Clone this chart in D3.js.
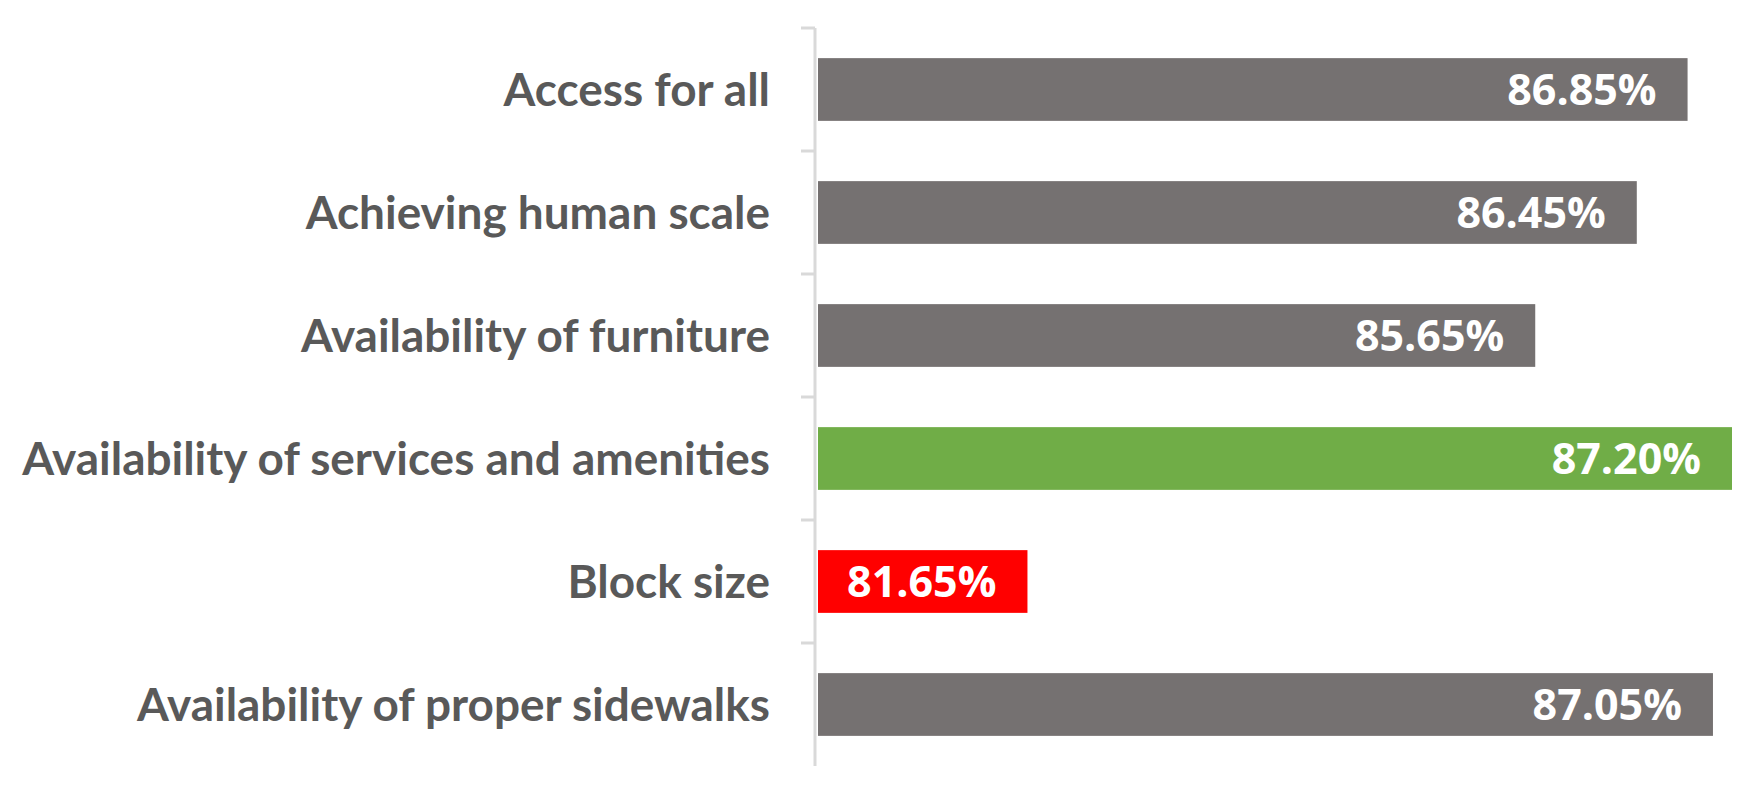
<!DOCTYPE html>
<html lang="en">
<head>
<meta charset="utf-8">
<title>Walkability criteria</title>
<style>
body {
  margin: 0;
  background: #ffffff;
}
#chart text.cat {
  fill: #595959;
  font-family: Lato, "Open Sans", sans-serif;
  font-weight: 700;
  text-anchor: end;
}
#chart text.val {
  fill: #ffffff;
  font-family: "Open Sans", sans-serif;
  font-weight: 700;
  font-size: 43px;
  text-anchor: end;
}
.axis path, .axis line {
  fill: none;
  stroke: #d9d9d9;
  stroke-width: 3;
}
</style>
</head>
<body>
<div id="chart"></div>
<script src="https://d3js.org/d3.v7.min.js"></script>
<script>

var categories = [
  "Access for all",
  "Achieving human scale",
  "Availability of furniture",
  "Availability of services and amenities",
  "Block size",
  "Availability of proper sidewalks"
];
var values = [86.85, 86.45, 85.65, 87.20, 81.65, 87.05];
var barColors = ["#757171", "#757171", "#757171", "#70ad47", "#ff0000", "#757171"];

var W = 1755, H = 787;
var axisX = 815;

var svg = d3.select('#chart')
  .append('svg')
  .attr('width', W)
  .attr('height', H);

var yS = d3.scaleBand()
  .domain(categories)
  .range([28, 766])
  .paddingInner(0.49)
  .paddingOuter(0.245);

var xS = d3.scaleLinear()
  .domain([80, 87.2])
  .range([axisX + 3, 1732]);

// bars
svg.selectAll('rect.bar')
  .data(values)
  .enter()
  .append('rect')
  .attr('class', 'bar')
  .attr('x', xS(80))
  .attr('y', function(d, i) { return yS(categories[i]); })
  .attr('width', function(d) { return xS(d) - xS(80); })
  .attr('height', yS.bandwidth())
  .style('fill', function(d, i) { return barColors[i]; });

// axis with ticks between categories
var axis = svg.append('g')
  .attr('class', 'axis')
  .attr('transform', 'translate(' + axisX + ',0)');

axis.append('line')
  .attr('x1', 0).attr('x2', 0)
  .attr('y1', yS.range()[0]).attr('y2', yS.range()[1]);

var bounds = d3.range(categories.length).map(function(i) {
  return yS.range()[0] + i * yS.step();
});
axis.selectAll('line.tick')
  .data(bounds)
  .enter()
  .append('line')
  .attr('class', 'tick')
  .attr('x1', -14).attr('x2', 0)
  .attr('y1', function(d) { return d; })
  .attr('y2', function(d) { return d; });

// category labels
var cats = svg.selectAll('text.cat')
  .data(categories)
  .enter()
  .append('text')
  .attr('class', 'cat')
  .attr('x', 770)
  .attr('y', function(d) { return yS(d) + yS.bandwidth() / 2; })
  .attr('dy', '0.36em')
  .text(function(d) { return d; });

// size the labels so the longest one spans the same width as the original
cats.style('font-size', '40px');
var longest = d3.max(cats.nodes(), function(n) { return n.getComputedTextLength(); });
var fs = 40 * 748 / longest;
cats.style('font-size', fs + 'px');

// value labels
svg.selectAll('text.val')
  .data(values)
  .enter()
  .append('text')
  .attr('class', 'val')
  .attr('x', function(d) { return xS(d) - 31; })
  .attr('y', function(d, i) { return yS(categories[i]) + yS.bandwidth() / 2; })
  .attr('dy', '0.36em')
  .text(function(d) { return d.toFixed(2) + '%'; });

</script>
</body>
</html>
